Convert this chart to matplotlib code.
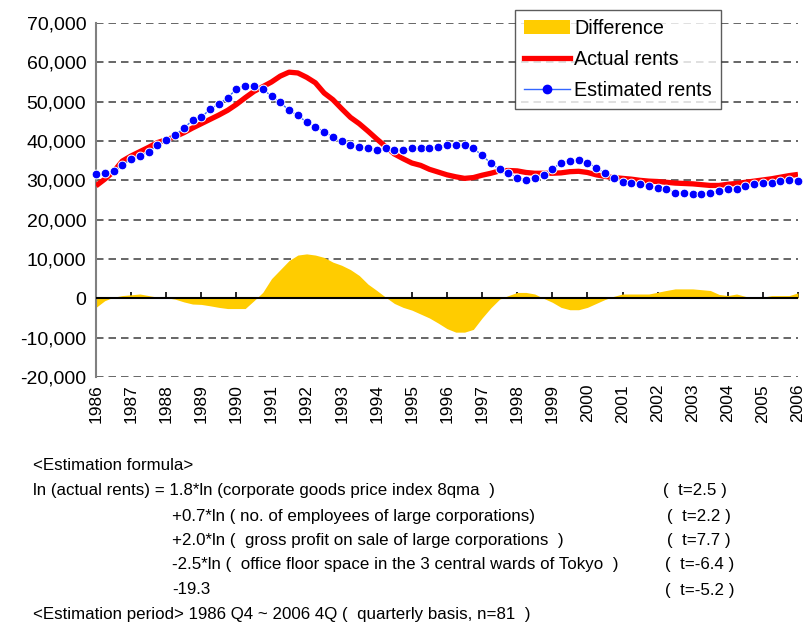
import numpy as np
import matplotlib
matplotlib.use("Agg")
import matplotlib.pyplot as plt
from matplotlib.patches import Patch
from matplotlib.lines import Line2D
from matplotlib.ticker import FuncFormatter

plt.rcParams['font.family'] = ['Liberation Sans', 'DejaVu Sans']

# quarterly series, 1986 Q4 - 2006 Q4 (n=81)
years = [str(y) for y in range(1986, 2007)]

actual = [28600, 30300, 32200, 34900, 36200, 37300, 38400, 39600, 40300, 41100,
          42100, 43300, 44400, 45500, 46600, 47800, 49300, 51000, 52600, 53800,
          55000, 56500, 57500, 57300, 56200, 54800, 52200, 50500, 48200, 46000,
          44400, 42500, 40500, 38600, 36700, 35500, 34400, 33800, 32800, 32100,
          31400, 30900, 30500, 30700, 31300, 31800, 32400, 32500, 32400, 32000,
          31800, 31800, 31800, 31900, 32200, 32300, 32000, 31400, 31000, 30700,
          30500, 30300, 30000, 29800, 29700, 29500, 29300, 29200, 29100, 28900,
          28700, 28700, 29000, 29200, 29500, 29800, 30100, 30400, 30800, 31200,
          31500]

estimated = [31500, 31800, 32300, 34000, 35300, 36100, 37300, 38900, 40200, 41500,
             43200, 45300, 46000, 48100, 49400, 51000, 53200, 54100, 54000, 53200,
             51400, 49800, 47800, 46500, 44800, 43600, 42350, 41000, 39900, 38900,
             38500, 38100, 37700, 38100, 37700, 37700, 38100, 38100, 38100, 38500,
             38900, 38900, 38900, 38100, 36400, 34300, 32800, 31800, 30700, 30200,
             30700, 31400, 32800, 34500, 34800, 35200, 34500, 33200, 31800, 30700,
             29700, 29400, 29000, 28600, 28100, 27700, 26900, 26900, 26500, 26500,
             26900, 27300, 27700, 27700, 28600, 29000, 29400, 29400, 29800, 30200,
             29800]

difference = [-2300, -600, 300, 700, 900, 1100, 700, 300, 150, -200,
              -900, -1450, -1550, -1900, -2300, -2600, -2600, -2600, -600, 1500,
              5000, 7300, 9600, 11000, 11300, 11000, 10400, 9200, 8400, 7300,
              5800, 3600, 2000, 300, -1300, -2300, -3000, -4000, -5000, -6300,
              -7700, -8600, -8600, -7900, -5000, -2400, -200, 700, 1500, 1500,
              1100, 0, -1000, -2300, -2900, -2900, -2300, -1300, -300, 500,
              1100, 1100, 1100, 1100, 1550, 2000, 2400, 2400, 2400, 2200,
              2000, 1000, 700, 1100, 500, 100, 300, 700, 700, 700,
              1400]

formula_lines = [
    "<Estimation formula>",
    "ln (actual rents) = 1.8*ln (corporate goods price index 8qma  )",
    "+0.7*ln ( no. of employees of large corporations)",
    "+2.0*ln (  gross profit on sale of large corporations  )",
    "-2.5*ln (  office floor space in the 3 central wards of Tokyo  )",
    "-19.3",
    "<Estimation period> 1986 Q4 ~ 2006 4Q (  quarterly basis, n=81  )",
]
t_values = ["(  t=2.5 )", "(  t=2.2 )", "(  t=7.7 )", "(  t=-6.4 )", "(  t=-5.2 )"]

x = np.arange(len(actual))

fig = plt.figure(figsize=(8.06, 6.23), dpi=100)
ax = fig.add_axes([96 / 806, 1 - 377 / 623, 702 / 806, 354 / 623])

ax.fill_between(x, difference, 0, color='#FFCC00', linewidth=0, zorder=2)
ax.plot(x, actual, color='#FF0000', lw=3.8, solid_capstyle='butt', zorder=3)
ax.plot(x, estimated, color='#3366FF', lw=1.0, marker='o', markersize=6.3,
        markerfacecolor='#0000FF', markeredgecolor='white', markeredgewidth=0.7,
        zorder=4, clip_on=False)

ax.set_xlim(0, 80)
ax.set_ylim(-20000, 70000)
ax.set_yticks(np.arange(-20000, 70001, 10000))
ax.yaxis.set_major_formatter(FuncFormatter(lambda v, p: f'{v:,.0f}'))
ax.yaxis.grid(True, linestyle=(0, (4.5, 3)), color='#4d4d4d', lw=1.2, zorder=1)
ax.tick_params(axis='y', length=0, pad=7, labelsize=14)

ax.set_xticks(np.arange(0, 81, 4))
ax.set_xticklabels(years, rotation=90)
ax.tick_params(axis='x', length=0, pad=5, labelsize=12.5)

for s in ['top', 'right', 'bottom']:
    ax.spines[s].set_visible(False)
ax.spines['left'].set_color('#808080')
ax.spines['left'].set_linewidth(1.5)

# zero axis with tick marks
ax.axhline(0, color='black', lw=1.5, zorder=3)
zero_frac = (0 - ax.get_ylim()[0]) / (ax.get_ylim()[1] - ax.get_ylim()[0])
sec = ax.secondary_xaxis(zero_frac)
sec.set_xticks(np.arange(0, 81, 4))
sec.tick_params(direction='in', length=4, width=1.2, labelbottom=False, color='black')
sec.spines['bottom'].set_visible(False)

handles = [Patch(facecolor='#FFCC00', edgecolor='none'),
           Line2D([], [], color='#FF0000', lw=3.8),
           Line2D([], [], color='#3366FF', lw=1.0, marker='o', markersize=6,
                  markerfacecolor='#0000FF', markeredgecolor='#0000FF')]
leg = fig.legend(handles, ['Difference', 'Actual rents', 'Estimated rents'],
                 loc='upper left', bbox_to_anchor=(515 / 806, 1 - 10 / 623),
                 fontsize=14.2, frameon=True, fancybox=False, handlelength=2.35,
                 handletextpad=0.2, borderpad=0.45, labelspacing=0.62,
                 borderaxespad=0)
leg.get_frame().set_edgecolor('#333333')
leg.get_frame().set_linewidth(1.0)

# estimation formula text
line_y = [466, 491, 516, 541, 565, 590, 614]
line_x = [33, 33, 172, 172, 172, 172, 33]
for s, lx, ly in zip(formula_lines, line_x, line_y):
    fig.text(lx / 806, 1 - ly / 623, s, fontsize=12.2, va='center', ha='left')
t_x = [663, 667, 667, 665, 665]
for s, tx, ly in zip(t_values, t_x, line_y[1:6]):
    fig.text(tx / 806, 1 - ly / 623, s, fontsize=12.2, va='center', ha='left')

fig.savefig('out.png', dpi=100)
